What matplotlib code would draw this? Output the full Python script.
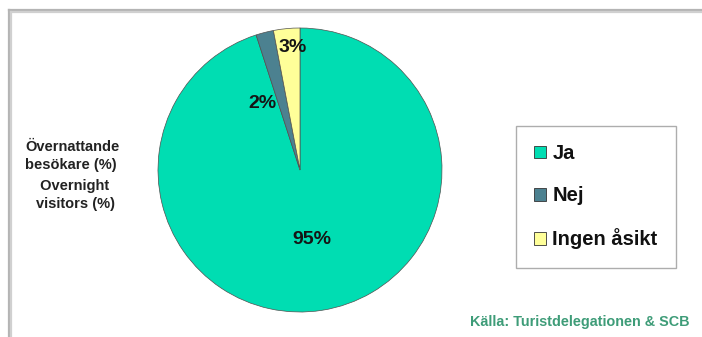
import matplotlib
matplotlib.use("Agg")
import matplotlib.pyplot as plt
from matplotlib.patches import Patch
from matplotlib.lines import Line2D

categories = ["Ja", "Nej", "Ingen åsikt"]
values = [95, 2, 3]
pct_labels = ["95%", "2%", "3%"]
colors = ["#00DDB2", "#4C8190", "#FFFF99"]
left_label_sv = "Övernattande\nbesökare (%)"
left_label_en = " Overnight\nvisitors (%)"
source = "Källa: Turistdelegationen & SCB"

W, H = 702, 337
fig = plt.figure(figsize=(W / 100, H / 100), dpi=100)
fig.patch.set_facecolor("white")
ax = fig.add_axes([0, 0, 1, 1])
plt.rcParams["font.family"] = ["Liberation Sans", "DejaVu Sans"]

# frame lines (top and left)
for off, c in [(0, "#b4b4b4"), (2, "#d0d0d0")]:
    ax.add_line(Line2D([9 + off, 9 + off], [0, H - 10 - off], color=c, lw=1.6))
    ax.add_line(Line2D([9 + off, W], [H - 10 - off, H - 10 - off], color=c, lw=1.6))

wedges, _ = ax.pie(values, colors=colors, startangle=90, counterclock=False,
                   center=(300, H - 170), radius=142, frame=True,
                   wedgeprops=dict(edgecolor="#505050", linewidth=0.5))
ax.set_xlim(0, W)
ax.set_ylim(0, H)
ax.set_aspect("equal")
ax.axis("off")

label_pos = [(312, 240), (262, 103), (293, 47)]
for (x, y), t in zip(label_pos, pct_labels):
    ax.text(x, H - y, t, ha="center", va="center", fontsize=14,
            fontweight="bold", color="#151515")

ax.text(25, H - 156, left_label_sv, ha="left", va="center", fontsize=10.5,
        fontweight="bold", color="#222222", linespacing=1.3)
ax.text(36, H - 195, left_label_en, ha="left", va="center", fontsize=10.5,
        fontweight="bold", color="#222222", linespacing=1.3)

ax.text(690, H - 322, source, ha="right", va="center", fontsize=10.4,
        fontweight="bold", color="#3E9C78")

handles = [Patch(facecolor=c, edgecolor="#333333", linewidth=0.6) for c in colors]
leg = ax.legend(handles, categories, loc="upper left",
                bbox_to_anchor=(516 / W, 1 - 126 / H), bbox_transform=fig.transFigure,
                prop=dict(family=["Liberation Sans", "DejaVu Sans"], weight="bold", size=14.5),
                frameon=True, fancybox=False, edgecolor="#999999",
                handlelength=0.6, handleheight=0.6, handletextpad=0.3,
                labelspacing=1.15, borderpad=0.9, borderaxespad=0)
leg.get_frame().set_linewidth(1.0)
for t in leg.get_texts():
    t.set_color("#111111")

fig.savefig("out.png", dpi=100, facecolor="white")
